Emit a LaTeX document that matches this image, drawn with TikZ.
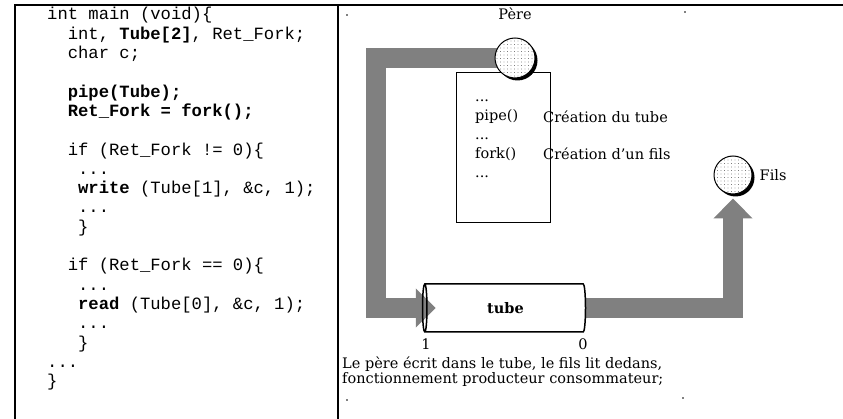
\documentclass[tikz,border=0pt]{standalone}
\usepackage{fontspec}
\setmainfont{DejaVu Serif}
\setmonofont{Liberation Mono}
\usetikzlibrary{arrows.meta, positioning, shapes.geometric, shadows, patterns.meta, backgrounds}
\definecolor{flowgray}{HTML}{808080}

\newcommand{\ind}[1]{\hspace*{#1em}}

\begin{document}
\begin{tikzpicture}[x=1pt, y=-1pt,
    frame/.style={line width=1.2pt},
    code/.style={font=\fontsize{17.2}{19.3}\selectfont\ttfamily, align=left, inner sep=0pt},
    txt/.style={font=\fontsize{14.5}{20}\selectfont, inner sep=0pt},
    process/.style={circle, draw, line width=1pt, minimum size=#1, fill=white,
        drop shadow={shadow xshift=2.5pt, shadow yshift=-2.5pt, fill=black, opacity=1},
        postaction={pattern={Dots[distance=3.5pt, radius=0.45pt]}, pattern color=black!80}},
    flow/.style={draw=flowgray, line width=20pt, -{Triangle[width=38pt, length=20pt]}},
]
    \useasboundingbox (0,0) rectangle (843,419);

    % table
    \draw[frame] (15,419) -- (15,5) -- (843,5);
    \draw[frame] (338,5) -- (338,419);

    % source code (base = last line)
    \node[code, anchor=base west] (src) at (47,386.7) {%
        int main (void)\{\\
        \ind{1.2}int, \textbf{Tube[2]}, Ret\_Fork;\\
        \ind{1.2}char c;\\
        \mbox{}\\
        \ind{1.2}\textbf{pipe(Tube);}\\
        \ind{1.2}\textbf{Ret\_Fork = fork();}\\
        \mbox{}\\
        \ind{1.2}if (Ret\_Fork != 0)\{\\
        \ind{1.8}...\\
        \ind{1.8}\textbf{write} (Tube[1], \&c, 1);\\
        \ind{1.8}...\\
        \ind{1.8}\}\\
        \mbox{}\\
        \ind{1.2}if (Ret\_Fork == 0)\{\\
        \ind{1.8}...\\
        \ind{1.8}\textbf{read} (Tube[0], \&c, 1);\\
        \ind{1.8}...\\
        \ind{1.8}\}\\
        ...\\
        \}};

    % father process
    \node[draw, line width=1pt, fill=white, minimum width=94pt, minimum height=150pt, inner sep=0pt] (prog) at (503,148) {};
    \node[txt, align=left, anchor=base west, font=\fontsize{14.5}{19}\selectfont] (calls) at (475,178) {...\\pipe()\\...\\fork()\\...};
    \node[txt, anchor=base west] (lbl-pipe) at (543,123) {Création du tube};
    \node[txt, anchor=base west] (lbl-fork) at (543,160) {Création d'un fils};

    \node[process=40pt] (pere) at (515,58) {};
    \node[txt, above=18pt of pere] (pere-lbl) {Père};
    \node[process=38pt] (fils) at (733,175) {};
    \node[txt, right=7pt of fils] (fils-lbl) {Fils};

    % the pipe
    \node[cylinder, shape border rotate=180, draw, line width=1.5pt, aspect=0.4,
        minimum height=163pt, minimum width=48pt, inner sep=0pt,
        font=\bfseries\fontsize{14.5}{17}\selectfont] (tube) at (505.5,308) {tube};
    \node[txt] (end-w) at (426,344) {1};
    \node[txt] (end-r) at (583,344) {0};

    \begin{scope}[on background layer]
        \draw[flow] (pere.center) -| ([xshift=-46pt]tube.west) -- ([xshift=14pt]tube.west);
        \draw[flow] (tube.east) -| ([yshift=-4pt]fils.south);
    \end{scope}

    \node[txt, align=left, anchor=base west, font=\fontsize{14.5}{15}\selectfont] (caption) at (342,384)
        {Le père écrit dans le tube, le fils lit dedans,\\fonctionnement producteur consommateur;};

    % stray dots
    \fill (347,15) circle (0.8pt);
    \fill (685,12) circle (0.8pt);
    \fill (347,400) circle (0.8pt);
    \fill (683,398) circle (0.8pt);
\end{tikzpicture}
\end{document}
